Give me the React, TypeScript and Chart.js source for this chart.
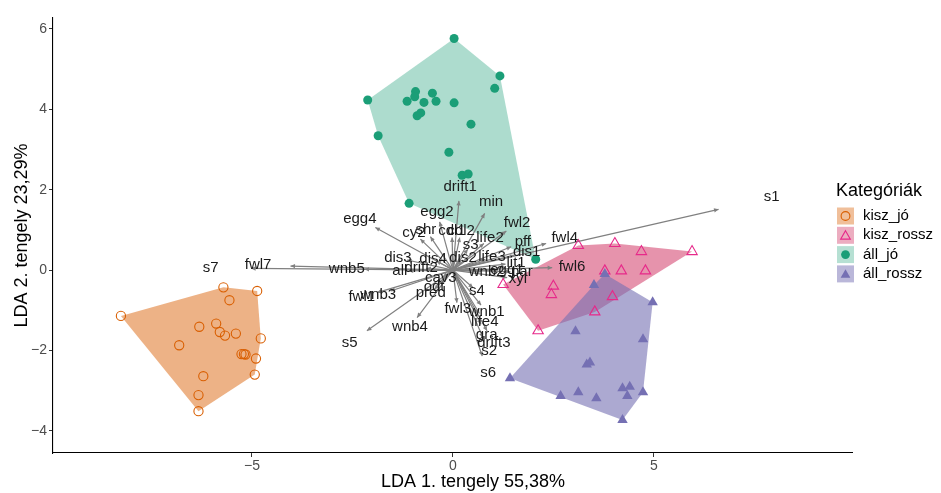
import { useEffect, useRef } from "react";
import { Chart, registerables } from "chart.js";

Chart.register(...registerables);

// Groups and their colours
const groupNames = ["kisz_jó", "kisz_rossz", "áll_jó", "áll_rossz"];
const groupColors = ["#D95F02", "#E7298A", "#1B9E77", "#7570B3"];
const hullFills = ["rgba(217,95,2,0.48)", "rgba(205,40,90,0.5)", "rgba(27,158,119,0.36)", "rgba(117,112,179,0.6)"];
const keyFills = ["rgba(217,95,2,0.4)", "rgba(205,40,90,0.38)", "rgba(27,158,119,0.32)", "rgba(117,112,179,0.5)"];
const legendTitle = "Kategóriák";

// LDA scores per group
const kiszJoX = [-8.26, -5.71, -4.87, -5.56, -6.31, -5.89, -5.8, -5.67, -5.4, -4.78, -6.81, -5.26, -5.2, -5.16, -4.9, -4.93, -6.21, -6.33, -6.33];
const kiszJoY = [-1.14, -0.43, -0.52, -0.75, -1.41, -1.33, -1.54, -1.63, -1.58, -1.7, -1.87, -2.09, -2.09, -2.1, -2.2, -2.6, -2.64, -3.11, -3.51];

const kiszRosszX = [3.12, 4.03, 4.69, 5.95, 3.78, 4.19, 4.79, 1.25, 2.5, 2.45, 3.97, 3.53, 2.12];
const kiszRosszY = [0.61, 0.66, 0.46, 0.46, -0.02, -0.02, -0.02, -0.36, -0.4, -0.61, -0.66, -1.04, -1.51];

const allJoX = [0.03, 1.17, 1.04, -2.12, -0.93, -0.95, -1.14, -0.72, -0.51, -0.42, 0.03, -0.8, -0.89, 0.45, -1.86, -0.1, 0.23, 0.38, -1.09, 2.06];
const allJoY = [5.76, 4.83, 4.52, 4.23, 4.44, 4.31, 4.2, 4.17, 4.4, 4.2, 4.16, 3.91, 3.84, 3.63, 3.34, 2.93, 2.36, 2.39, 1.66, 0.27];

const allRosszX = [3.78, 3.51, 4.97, 3.05, 4.73, 3.33, 3.41, 1.42, 3.12, 2.68, 3.57, 4.22, 4.4, 4.34, 4.73, 4.22];
const allRosszY = [-0.1, -0.37, -0.8, -1.52, -1.72, -2.35, -2.3, -2.69, -3.04, -3.13, -3.19, -2.94, -2.9, -3.13, -3.04, -3.73];

// Variable loadings (arrow tips); labels sit a little beyond each tip
const arrowNames = [
  "s1", "s7", "fwl7", "wnb5", "egg4", "egg2", "drift1", "min", "fwl2", "fwl4", "pff", "dis1", "fwl6",
  "cy2", "shr", "cdl1", "cdl2", "life2", "s3", "dis3", "dis4", "dis2", "life3", "lit1", "all", "drift2",
  "wnb2", "egg1", "par", "xyl", "cav3", "odt", "pred", "s4", "fwl1", "wnb3", "wnb4", "s5", "fwl3",
  "wnb1", "life4", "gra", "drift3", "s2", "s6",
];
const arrowX = [
  6.61, -5.02, -4.04, -2.2, -1.93, -0.33, 0.15, 0.79, 1.33, 2.32, 1.45, 1.53, 2.47,
  -0.81, -0.56, -0.02, 0.17, 0.77, 0.37, -1.14, -0.41, 0.21, 0.81, 1.31, -1.1, -0.66,
  0.7, 1.12, 1.43, 1.35, -0.25, -0.39, -0.46, 0.5, -1.89, -1.55, -0.89, -2.14, 0.1,
  0.7, 0.66, 0.7, 0.85, 0.75, 0.73,
];
const arrowY = [
  1.51, 0.04, 0.1, 0.02, 1.06, 1.2, 1.72, 1.41, 0.97, 0.66, 0.58, 0.37, 0.06,
  0.77, 0.83, 0.81, 0.81, 0.66, 0.52, 0.25, 0.23, 0.25, 0.27, 0.15, -0.02, 0.04,
  -0.04, 0.0, -0.04, -0.19, -0.17, -0.35, -0.48, -0.44, -0.56, -0.52, -1.18, -1.51, -0.81,
  -0.87, -1.08, -1.35, -1.51, -1.68, -2.14,
];
const labelFactor = 1.2;

const xTicks = [-5, 0, 5];
const yTicks = [-4, -2, 0, 2, 4, 6];
const xTitle = "LDA 1. tengely 55,38%";
const yTitle = "LDA 2. tengely 23,29%";

const FONT = "'Liberation Sans', Arial, sans-serif";

type Pt = { x: number; y: number };

const toPoints = (xs: number[], ys: number[]): Pt[] => xs.map((x, i) => ({ x, y: ys[i] }));

// Monotone chain convex hull
function convexHull(pts: Pt[]): Pt[] {
  const p = [...pts].sort((a, b) => a.x - b.x || a.y - b.y);
  const cross = (o: Pt, a: Pt, b: Pt) => (a.x - o.x) * (b.y - o.y) - (a.y - o.y) * (b.x - o.x);
  const lower: Pt[] = [];
  for (const q of p) {
    while (lower.length >= 2 && cross(lower[lower.length - 2], lower[lower.length - 1], q) <= 0) lower.pop();
    lower.push(q);
  }
  const upper: Pt[] = [];
  for (let i = p.length - 1; i >= 0; i--) {
    const q = p[i];
    while (upper.length >= 2 && cross(upper[upper.length - 2], upper[upper.length - 1], q) <= 0) upper.pop();
    upper.push(q);
  }
  upper.pop();
  lower.pop();
  return lower.concat(upper);
}

const groups = [
  toPoints(kiszJoX, kiszJoY),
  toPoints(kiszRosszX, kiszRosszY),
  toPoints(allJoX, allJoY),
  toPoints(allRosszX, allRosszY),
];
const pointStyles = ["circle", "triangle", "circle", "triangle"] as const;
const filled = [false, false, true, true];
const radii = [4.6, 6, 4.5, 6];

function drawMarker(ctx: CanvasRenderingContext2D, i: number, x: number, y: number, r: number) {
  ctx.beginPath();
  if (pointStyles[i] === "circle") {
    ctx.arc(x, y, r, 0, Math.PI * 2);
  } else {
    for (let k = 0; k < 3; k++) {
      const a = (k * 2 * Math.PI) / 3;
      const px = x + Math.sin(a) * r;
      const py = y - Math.cos(a) * r;
      if (k === 0) ctx.moveTo(px, py);
      else ctx.lineTo(px, py);
    }
    ctx.closePath();
  }
  if (filled[i]) {
    ctx.fillStyle = groupColors[i];
    ctx.fill();
  } else {
    ctx.strokeStyle = groupColors[i];
    ctx.lineWidth = 1.1;
    ctx.stroke();
  }
}

const biplotLayers = {
  id: "biplotLayers",
  beforeDatasetsDraw(chart: any) {
    const { ctx, chartArea, scales } = chart;
    const sx = scales.x;
    const sy = scales.y;
    ctx.save();
    ctx.beginPath();
    ctx.rect(chartArea.left, chartArea.top, chartArea.right - chartArea.left, chartArea.bottom - chartArea.top);
    ctx.clip();
    // group hulls
    groups.forEach((g, i) => {
      const hull = convexHull(g);
      ctx.beginPath();
      hull.forEach((p, k) => {
        const px = sx.getPixelForValue(p.x);
        const py = sy.getPixelForValue(p.y);
        if (k === 0) ctx.moveTo(px, py);
        else ctx.lineTo(px, py);
      });
      ctx.closePath();
      ctx.fillStyle = hullFills[i];
      ctx.fill();
    });
    // loading arrows
    const ox = sx.getPixelForValue(0);
    const oy = sy.getPixelForValue(0);
    ctx.strokeStyle = "#808080";
    ctx.fillStyle = "#808080";
    ctx.lineWidth = 1.2;
    arrowNames.forEach((_, i) => {
      const tx = sx.getPixelForValue(arrowX[i]);
      const ty = sy.getPixelForValue(arrowY[i]);
      ctx.beginPath();
      ctx.moveTo(ox, oy);
      ctx.lineTo(tx, ty);
      ctx.stroke();
      const ang = Math.atan2(ty - oy, tx - ox);
      const len = 5;
      const spread = Math.PI / 7;
      ctx.beginPath();
      ctx.moveTo(tx, ty);
      ctx.lineTo(tx - len * Math.cos(ang - spread), ty - len * Math.sin(ang - spread));
      ctx.lineTo(tx - len * Math.cos(ang + spread), ty - len * Math.sin(ang + spread));
      ctx.closePath();
      ctx.fill();
    });
    ctx.restore();
  },
  afterDatasetsDraw(chart: any) {
    const { ctx, scales } = chart;
    const sx = scales.x;
    const sy = scales.y;
    ctx.save();
    ctx.font = `15px ${FONT}`;
    ctx.fillStyle = "#1a1a1a";
    ctx.textAlign = "center";
    ctx.textBaseline = "middle";
    arrowNames.forEach((name, i) => {
      const lx = sx.getPixelForValue(arrowX[i] * labelFactor);
      const ly = sy.getPixelForValue(arrowY[i] * labelFactor);
      ctx.fillText(name, lx, ly);
    });
    ctx.restore();
  },
  afterDraw(chart: any) {
    const { ctx } = chart;
    ctx.save();
    ctx.fillStyle = "#000";
    ctx.textBaseline = "middle";
    ctx.textAlign = "center";
    // x-axis title, centred under the plot and legend gutter
    ctx.font = `18px ${FONT}`;
    ctx.fillText(xTitle, 473, 482);
    // legend
    ctx.textAlign = "left";
    ctx.fillText(legendTitle, 836, 191);
    ctx.font = `15px ${FONT}`;
    groupNames.forEach((name, i) => {
      const cy = 216 + i * 19.3;
      ctx.fillStyle = keyFills[i];
      ctx.fillRect(837, cy - 8.5, 17, 17);
      drawMarker(ctx, i, 845.5, cy + (pointStyles[i] === "triangle" ? 1 : 0), pointStyles[i] === "triangle" ? 5.6 : 4.4);
      ctx.fillStyle = "#000";
      ctx.fillText(name, 863, cy);
    });
    ctx.restore();
  },
};

const fmtTick = (v: number) => (v < 0 ? "\u2212" + Math.abs(v) : String(v));

export default function App() {
  const canvasRef = useRef<HTMLCanvasElement | null>(null);

  useEffect(() => {
    const canvas = canvasRef.current;
    if (!canvas) return;
    const chart = new Chart(canvas, {
      type: "scatter",
      data: {
        datasets: groups.map((g, i) => ({
          label: groupNames[i],
          data: g,
          pointStyle: pointStyles[i],
          pointRadius: radii[i],
          pointHoverRadius: radii[i],
          pointBorderWidth: filled[i] ? 0 : 1.1,
          pointBackgroundColor: filled[i] ? groupColors[i] : "rgba(0,0,0,0)",
          pointBorderColor: groupColors[i],
          borderColor: groupColors[i],
          backgroundColor: groupColors[i],
          order: groups.length - i,
        })),
      },
      options: {
        animation: false,
        responsive: true,
        maintainAspectRatio: false,
        layout: { padding: { top: 18, right: 89, left: 0, bottom: 0 } },
        plugins: {
          legend: { display: false },
          tooltip: { enabled: false },
        },
        scales: {
          x: {
            type: "linear",
            min: -9.95,
            max: 9.93,
            afterBuildTicks: (scale: any) => {
              scale.ticks = xTicks.map((v) => ({ value: v }));
            },
            afterFit: (scale: any) => {
              scale.height = 40;
            },
            grid: { display: true, drawOnChartArea: false, drawTicks: true, tickLength: 4, color: "#333", lineWidth: 1 },
            border: { display: true, color: "#000", width: 1.1 },
            ticks: {
              color: "#4d4d4d",
              font: { family: FONT, size: 14 },
              padding: 1,
              maxRotation: 0,
              callback: (v: any) => fmtTick(Number(v)),
            },
            title: { display: false },
          },
          y: {
            type: "linear",
            min: -4.55,
            max: 6.27,
            afterBuildTicks: (scale: any) => {
              scale.ticks = yTicks.map((v) => ({ value: v }));
            },
            afterFit: (scale: any) => {
              scale.width = 53;
            },
            grid: { display: true, drawOnChartArea: false, drawTicks: true, tickLength: 4, color: "#333", lineWidth: 1 },
            border: { display: true, color: "#000", width: 1.1 },
            ticks: {
              color: "#4d4d4d",
              font: { family: FONT, size: 14 },
              padding: 2,
              callback: (v: any) => fmtTick(Number(v)),
            },
            title: {
              display: true,
              text: yTitle,
              color: "#000",
              font: { family: FONT, size: 18 },
              padding: { top: 11, bottom: 0 },
            },
          },
        },
      },
      plugins: [biplotLayers],
    });
    return () => chart.destroy();
  }, []);

  return (
    <div style={{ position: "fixed", left: 0, top: 0, width: 941, height: 493, background: "#fff" }}>
      <canvas ref={canvasRef} />
    </div>
  );
}
